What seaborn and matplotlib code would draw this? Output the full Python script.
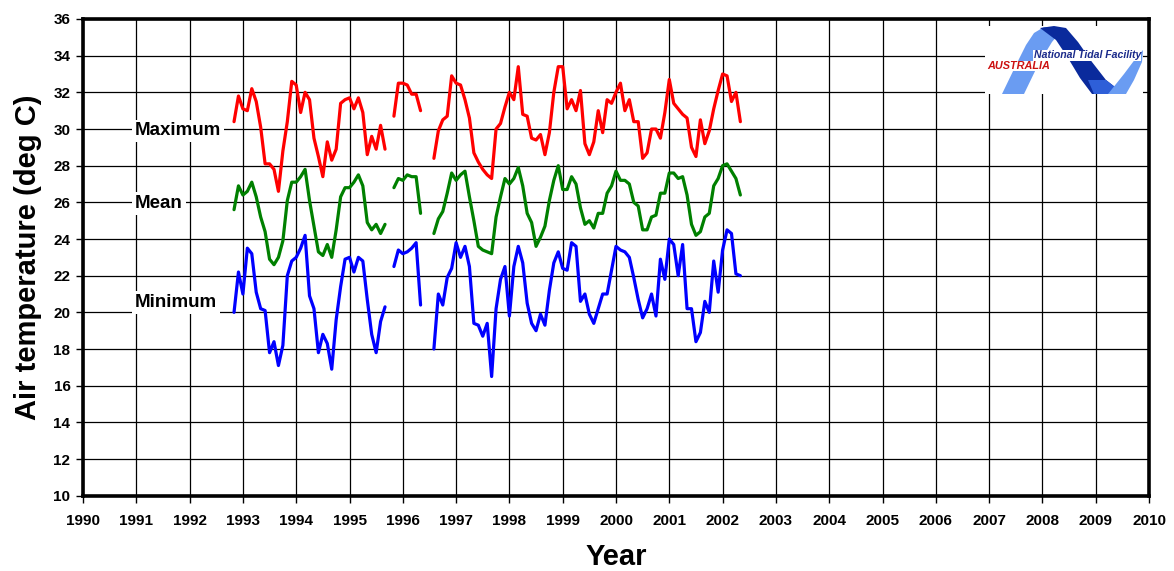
import numpy as np
import pandas as pd
import matplotlib
matplotlib.use("Agg")
import matplotlib.pyplot as plt
from matplotlib.patches import Polygon
import seaborn as sns

nan = np.nan
# Monthly series, Nov 1992 .. May 2002 (nan = missing month)
years = [1992, 1993, 1994, 1995, 1996, 1997, 1998, 1999, 2000, 2001, 2002]
start_month = 11  # November 1992

max_temp = [
    30.4, 31.8,
    31.1, 31.0, 32.2, 31.5, 30.1, 28.1, 28.1, 27.8, 26.6, 28.8, 30.4, 32.6,
    32.4, 30.9, 32.0, 31.6, 29.5, 28.5, 27.4, 29.3, 28.3, 28.9, 31.4, 31.6,
    31.7, 31.1, 31.7, 30.9, 28.6, 29.6, 28.9, 30.2, 28.9, nan, 30.7, 32.5,
    32.5, 32.4, 31.9, 31.9, 31.0, nan, nan, 28.4, 29.9, 30.5, 30.7, 32.9,
    32.5, 32.4, 31.6, 30.6, 28.7, 28.2, 27.8, 27.5, 27.3, 30.0, 30.3, 31.2,
    32.0, 31.6, 33.4, 30.8, 30.7, 29.5, 29.4, 29.7, 28.6, 29.8, 32.0, 33.4,
    33.4, 31.1, 31.6, 31.0, 32.1, 29.2, 28.6, 29.3, 31.0, 29.8, 31.6, 31.4,
    32.0, 32.5, 31.0, 31.6, 30.4, 30.4, 28.4, 28.7, 30.0, 30.0, 29.5, 30.9,
    32.7, 31.4, 31.1, 30.8, 30.6, 29.0, 28.5, 30.5, 29.2, 29.9, 31.1, 32.1,
    33.0, 32.9, 31.5, 32.0, 30.4,
]
mean_temp = [
    25.6, 26.9,
    26.4, 26.6, 27.1, 26.3, 25.2, 24.4, 22.9, 22.6, 23.0, 23.9, 26.1, 27.1,
    27.1, 27.4, 27.8, 26.1, 24.7, 23.3, 23.1, 23.7, 23.0, 24.5, 26.3, 26.8,
    26.8, 27.1, 27.5, 26.9, 24.9, 24.5, 24.8, 24.3, 24.8, nan, 26.8, 27.3,
    27.2, 27.5, 27.4, 27.4, 25.4, nan, nan, 24.3, 25.1, 25.5, 26.5, 27.6,
    27.2, 27.5, 27.7, 26.3, 25.0, 23.6, 23.4, 23.3, 23.2, 25.2, 26.3, 27.3,
    27.0, 27.3, 27.9, 26.9, 25.4, 24.9, 23.6, 24.1, 24.7, 26.1, 27.2, 28.0,
    26.7, 26.7, 27.4, 27.0, 25.7, 24.8, 25.0, 24.6, 25.4, 25.4, 26.5, 26.9,
    27.7, 27.2, 27.2, 27.0, 26.0, 25.8, 24.5, 24.5, 25.2, 25.3, 26.5, 26.5,
    27.6, 27.6, 27.3, 27.4, 26.4, 24.8, 24.2, 24.4, 25.2, 25.4, 26.9, 27.3,
    28.0, 28.1, 27.7, 27.3, 26.4,
]
min_temp = [
    20.0, 22.2,
    21.0, 23.5, 23.2, 21.1, 20.2, 20.1, 17.8, 18.4, 17.1, 18.2, 22.0, 22.8,
    23.0, 23.5, 24.2, 20.9, 20.2, 17.8, 18.8, 18.3, 16.9, 19.6, 21.4, 22.9,
    23.0, 22.2, 23.0, 22.8, 20.7, 18.8, 17.8, 19.5, 20.3, nan, 22.5, 23.4,
    23.2, 23.3, 23.5, 23.8, 20.4, nan, nan, 18.0, 21.0, 20.4, 21.9, 22.4,
    23.8, 23.0, 23.6, 22.5, 19.4, 19.3, 18.7, 19.4, 16.5, 20.2, 21.8, 22.5,
    19.8, 22.5, 23.6, 22.7, 20.5, 19.4, 19.0, 19.9, 19.3, 21.2, 22.7, 23.3,
    22.4, 22.3, 23.8, 23.6, 20.6, 21.0, 19.9, 19.4, 20.2, 21.0, 21.0, 22.3,
    23.6, 23.4, 23.3, 23.0, 21.9, 20.7, 19.7, 20.2, 21.0, 19.8, 22.9, 21.8,
    24.0, 23.7, 22.0, 23.7, 20.2, 20.2, 18.4, 18.9, 20.6, 20.0, 22.8, 21.1,
    23.4, 24.5, 24.3, 22.1, 22.0,
]
series_names = ["Maximum", "Mean", "Minimum"]
series_colors = ["#ff0000", "#008000", "#0000ff"]
x_ticks = list(range(1990, 2011))
y_ticks = list(range(10, 37, 2))

# time axis: year + (month-1)/12
n = len(max_temp)
t = np.array([years[0] + (start_month - 1 + i) / 12.0 for i in range(n)])

rows = []
for name, vals in zip(series_names, [max_temp, mean_temp, min_temp]):
    seg = 0
    for ti, v in zip(t, vals):
        if np.isnan(v):
            seg += 1
            continue
        rows.append({"year": ti, "temp": v, "series": name, "seg": f"{name}{seg}"})
df = pd.DataFrame(rows)

sns.set_style("white")
plt.rcParams["font.family"] = ["Liberation Sans", "DejaVu Sans"]
for key in ["text.color", "axes.labelcolor", "xtick.color", "ytick.color"]:
    plt.rcParams[key] = "black"

W, H = 1174, 571
fig = plt.figure(figsize=(W / 100, H / 100), dpi=100)
ax = fig.add_axes([83 / W, 1 - 495.7 / H, (1149 - 83) / W, (495.7 - 19) / H])

sns.lineplot(data=df, x="year", y="temp", hue="series", units="seg",
             estimator=None, palette=dict(zip(series_names, series_colors)),
             hue_order=series_names, linewidth=2.3, legend=False, ax=ax,
             zorder=3)

ax.set_xlim(1990, 2010)
ax.set_ylim(10, 36)
ax.set_xticks(x_ticks)
ax.set_yticks(y_ticks)
ax.set_xticklabels([str(v) for v in x_ticks], fontsize=11, fontweight="bold")
ax.set_yticklabels([str(v) for v in y_ticks], fontsize=11, fontweight="bold")
ax.grid(True, color="#000000", linewidth=0.9)
ax.set_axisbelow(True)
for s in ax.spines.values():
    s.set_linewidth(2.6)
    s.set_color("black")
    s.set_visible(True)
ax.tick_params(axis="both", direction="out", length=5, width=1, color="black",
               bottom=True, left=True, pad=4)
ax.tick_params(axis="x", pad=8)
ax.set_xlabel("Year", fontsize=21, fontweight="bold", labelpad=11)
ax.set_ylabel("Air temperature (deg C)", fontsize=21, fontweight="bold", labelpad=8)

# series labels
label_y = [29.9, 25.95, 20.55]
for name, yv in zip(series_names, label_y):
    ax.text(1990.98, yv, name, fontsize=13.5, fontweight="bold", ha="left",
            va="center", zorder=4,
            bbox=dict(facecolor="white", edgecolor="none", pad=2))

# logo (drawn in pixel coords of a small inset)
lx0, lx1, ly0, ly1 = 985, 1143, 26, 94
lax = fig.add_axes([lx0 / W, 1 - ly1 / H, (lx1 - lx0) / W, (ly1 - ly0) / H])
lax.set_xlim(lx0, lx1)
lax.set_ylim(ly1, ly0)
lax.set_facecolor("white")
lax.set_xticks([])
lax.set_yticks([])
for s in lax.spines.values():
    s.set_visible(False)
light = "#6a9cf2"
dark = "#0a2a9c"
mid = "#2e5fd8"
lax.add_patch(Polygon([(1002, 94), (1024, 94), (1038, 65), (1052, 42), (1062, 30),
                       (1056, 27), (1044, 27), (1034, 33), (1026, 45), (1016, 65)],
                      closed=True, color=light, lw=0))
lax.add_patch(Polygon([(1040, 28), (1054, 26), (1066, 28), (1078, 42), (1092, 62),
                       (1106, 80), (1124, 94), (1092, 94), (1080, 78), (1068, 58),
                       (1056, 40)], closed=True, color=dark, lw=0))
lax.add_patch(Polygon([(1088, 80), (1106, 80), (1124, 94), (1094, 94)],
                      closed=True, color=mid, lw=0))
lax.add_patch(Polygon([(1108, 94), (1126, 94), (1134, 80), (1142, 62), (1143, 50),
                       (1136, 58), (1124, 74)], closed=True, color=light, lw=0))
lax.text(1141, 55.5, "National Tidal Facility", fontsize=7.6, fontweight="bold",
         style="italic", color="#1a2a8a", ha="right", va="center",
         bbox=dict(facecolor="white", edgecolor="none", pad=0.3))
lax.text(987, 66, "AUSTRALIA", fontsize=7.8, fontweight="bold", style="italic",
         color="#cc1111", ha="left", va="center",
         bbox=dict(facecolor="white", edgecolor="none", pad=0.3))

fig.savefig("out.png", dpi=100, facecolor="white")
